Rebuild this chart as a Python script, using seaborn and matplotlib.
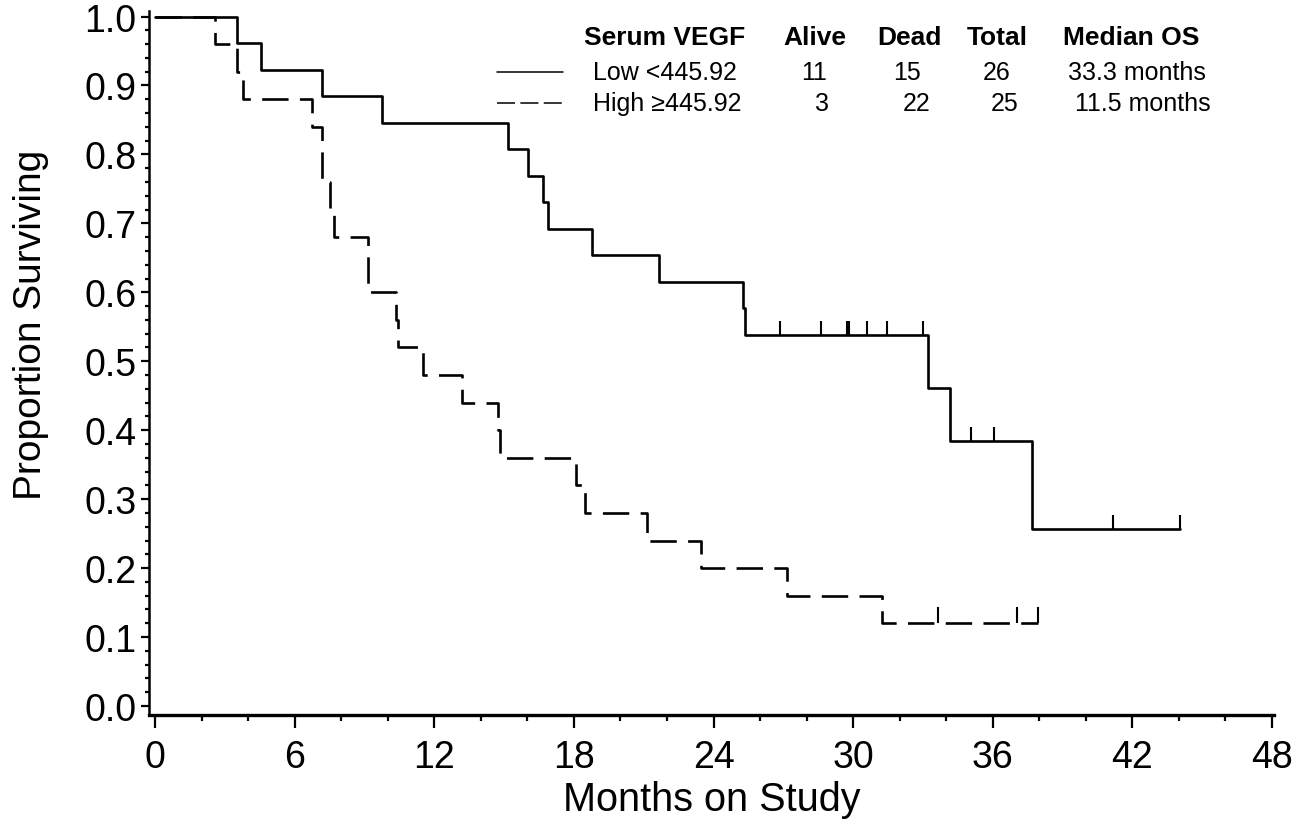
import numpy as np
import pandas as pd
import matplotlib
matplotlib.use("Agg")
import matplotlib.pyplot as plt
from matplotlib.lines import Line2D
from matplotlib.ticker import MultipleLocator
import seaborn as sns

# ---- data ----
low_event_times = [3.52, 4.56, 7.18, 9.75, 15.17, 16.03, 16.67, 16.89, 18.78, 21.66,
                   25.25, 25.35, 33.22, 34.16, 37.70]
low_censor_times = [26.86, 28.62, 29.72, 29.82, 30.58, 31.46, 32.99, 35.07, 36.06,
                    41.18, 44.05]
high_event_times = [2.58, 3.52, 3.79, 6.73, 7.18, 7.18, 7.52, 7.70, 9.16, 9.16,
                    10.36, 10.42, 11.49, 13.18, 14.72, 14.80, 18.08, 18.48, 21.13,
                    23.46, 27.17, 31.23]
high_censor_times = [33.66, 37.03, 37.96]

groups = ["Low <445.92", "High \u2265445.92"]
legend_alive = ["11", "3"]
legend_dead = ["15", "22"]
legend_total = ["26", "25"]
legend_median = ["33.3 months", "11.5 months"]
x_ticks = [0, 6, 12, 18, 24, 30, 36, 42, 48]
y_ticks = [0.0, 0.1, 0.2, 0.3, 0.4, 0.5, 0.6, 0.7, 0.8, 0.9, 1.0]


def kaplan_meier(events, censors):
    times = np.array(list(events) + list(censors))
    died = np.array([1] * len(events) + [0] * len(censors))
    order = np.lexsort((1 - died, times))
    times, died = times[order], died[order]
    n = len(times)
    s = 1.0
    xs, ys = [0.0], [1.0]
    cens_x, cens_y = [], []
    at_risk = n
    i = 0
    while i < n:
        t = times[i]
        d = 0
        c = 0
        while i < n and times[i] == t:
            if died[i]:
                d += 1
            else:
                c += 1
            i += 1
        if d:
            s = s * (at_risk - d) / at_risk
            xs.append(t)
            ys.append(s)
        if c:
            cens_x += [t] * c
            cens_y += [s] * c
        at_risk -= d + c
    xs.append(times.max())
    ys.append(s)
    return xs, ys, cens_x, cens_y


lx, ly, lcx, lcy = kaplan_meier(low_event_times, low_censor_times)
hx, hy, hcx, hcy = kaplan_meier(high_event_times, high_censor_times)

df = pd.DataFrame({
    "Months": lx + hx,
    "Surv": ly + hy,
    "Group": [groups[0]] * len(lx) + [groups[1]] * len(hx),
})

sns.set_theme(style="ticks")
plt.rcParams["font.family"] = ["Liberation Sans", "DejaVu Sans"]
plt.rcParams["text.color"] = "black"
plt.rcParams["axes.labelcolor"] = "black"

fig = plt.figure(figsize=(13.04, 8.28), dpi=100)
ax = fig.add_axes([0.1143, 0.1353, 0.8627, 0.8502])

LW = 1.9
DASH = (10, 4.3)
sns.lineplot(data=df, x="Months", y="Surv", style="Group", style_order=groups,
             dashes={groups[0]: "", groups[1]: DASH}, color="black",
             estimator=None, sort=False, drawstyle="steps-post", lw=LW,
             legend=False, ax=ax)

ax.vlines(lcx, np.array(lcy), np.array(lcy) + 0.02, color="black", lw=1.5)
ax.vlines(hcx, np.array(hcy), np.array(hcy) + 0.024, color="black", lw=1.5)

ax.set_xlim(-0.27, 48.1)
ax.set_ylim(-0.013, 1.008)
ax.set_xticks(x_ticks)
ax.set_xticklabels([str(v) for v in x_ticks])
ax.set_yticks(y_ticks)
ax.set_yticklabels([f"{v:.1f}" for v in y_ticks])
ax.xaxis.set_minor_locator(MultipleLocator(2))
ax.yaxis.set_minor_locator(MultipleLocator(0.02))
ax.tick_params(axis="both", which="major", labelsize=27, color="black",
               labelcolor="black", width=1.6)
ax.tick_params(axis="y", which="major", length=6, pad=3)
ax.tick_params(axis="x", which="major", length=9, pad=8)
ax.tick_params(axis="y", which="minor", length=3, width=1.6, color="black")
ax.tick_params(axis="x", which="minor", length=4.5, width=1.6, color="black")
for side in ["top", "right"]:
    ax.spines[side].set_visible(False)
ax.spines["left"].set_linewidth(1.8)
ax.spines["bottom"].set_linewidth(2.4)
ax.spines["left"].set_color("black")
ax.spines["bottom"].set_color("black")

ax.set_xlabel("Months on Study", fontsize=28.5, color="black")
ax.set_ylabel("Proportion Surviving", fontsize=28, color="black")
ax.xaxis.set_label_coords(0.5, -0.093)
ax.yaxis.set_label_coords(-0.089, 0.555)

# ---- table-style legend (figure pixel layout) ----
W, H = 1304.0, 828.0


def fx(px):
    return px / W


def fy(py):
    return 1 - py / H


FSB = 19
FS = 18
hdr_y, r1_y, r2_y = 38, 73, 104
fig.text(fx(584), fy(hdr_y), "Serum VEGF", fontsize=FSB, fontweight="bold", ha="left", va="center")
fig.text(fx(815), fy(hdr_y), "Alive", fontsize=FSB, fontweight="bold", ha="center", va="center")
fig.text(fx(909), fy(hdr_y), "Dead", fontsize=FSB, fontweight="bold", ha="center", va="center")
fig.text(fx(997), fy(hdr_y), "Total", fontsize=FSB, fontweight="bold", ha="center", va="center")
fig.text(fx(1131), fy(hdr_y), "Median OS", fontsize=FSB, fontweight="bold", ha="center", va="center")

row_y = [r1_y, r2_y]
name_x = [593, 593]
alive_x = [814, 822]
dead_x = [907, 917]
total_x = [997, 1005]
med_x = [1068, 1075]
leg_styles = ["-", (0, (11.8, 3.5))]
for i in range(2):
    fig.add_artist(Line2D([fx(497), fx(563)], [fy(row_y[i]), fy(row_y[i])],
                          color="black", lw=1.1, linestyle=leg_styles[i]))
    fig.text(fx(name_x[i]), fy(row_y[i]), groups[i], fontsize=FS, ha="left", va="center")
    fig.text(fx(alive_x[i]), fy(row_y[i]), legend_alive[i], fontsize=FS, ha="center", va="center")
    fig.text(fx(dead_x[i]), fy(row_y[i]), legend_dead[i], fontsize=FS, ha="center", va="center")
    fig.text(fx(total_x[i]), fy(row_y[i]), legend_total[i], fontsize=FS, ha="center", va="center")
    fig.text(fx(med_x[i]), fy(row_y[i]), legend_median[i], fontsize=FS, ha="left", va="center")

fig.savefig("out.png", dpi=100, facecolor="white")
